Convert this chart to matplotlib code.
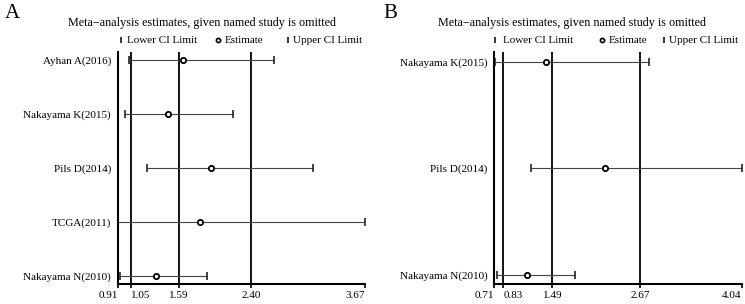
import numpy as np
import matplotlib
matplotlib.use('Agg')
import matplotlib.pyplot as plt

plt.rcParams['font.family'] = ['Liberation Serif', 'DejaVu Serif']

# panel A data
studies_a = ['Ayhan A(2016)', 'Nakayama K(2015)', 'Pils D(2014)', 'TCGA(2011)', 'Nakayama N(2010)']
est_a = [1.64, 1.47, 1.95, 1.83, 1.33]
lower_a = [1.03, 0.99, 1.23, 0.91, 0.93]
upper_a = [2.65, 2.20, 3.09, 3.67, 1.90]
ticks_a = [0.91, 1.05, 1.59, 2.40, 3.67]
ref_a = [1.05, 1.59, 2.40]

# panel B data
studies_b = ['Nakayama K(2015)', 'Pils D(2014)', 'Nakayama N(2010)']
est_b = [1.40, 2.20, 1.15]
lower_b = [0.72, 1.20, 0.74]
upper_b = [2.79, 4.04, 1.79]
ticks_b = [0.71, 0.83, 1.49, 2.67, 4.04]
ref_b = [0.83, 1.49, 2.67]

fig = plt.figure(figsize=(7.45, 3.04), dpi=100)


def panel(rect, studies, est, lower, upper, ticks, refs, leg_x, title_x, letter, letter_x):
    ax = fig.add_axes(rect)
    n = len(studies)
    y = np.arange(n, 0, -1)
    if n == 5:
        ax.set_ylim(0.85, n + 0.15)
    else:
        ax.set_ylim(0.915, n + 0.09)
    ax.set_xlim(ticks[0], ticks[-1])

    for r in refs:
        ax.axvline(r, color='black', lw=1.3)

    ax.hlines(y, lower, upper, color='#444444', lw=0.8)
    ax.plot(lower, y, ls='none', marker='|', ms=6, mew=1.2, color='#222222', clip_on=False)
    ax.plot(upper, y, ls='none', marker='|', ms=6, mew=1.2, color='#222222', clip_on=False)
    ax.plot(est, y, ls='none', marker='o', ms=3.8, mfc='white', mec='black', mew=1.3,
            clip_on=False, zorder=5)

    ax.set_yticks(y)
    ax.set_yticklabels(studies, fontsize=8)
    ax.tick_params(axis='y', length=0, pad=5)
    ax.set_xticks(ticks)
    labels = ax.set_xticklabels(['%.2f' % t for t in ticks], fontsize=8)
    labels[0].set_ha('right')
    labels[1].set_ha('left')
    labels[-1].set_ha('right')
    ax.tick_params(axis='x', direction='out', length=3, width=1.2, pad=2)

    for s in ['top', 'right']:
        ax.spines[s].set_visible(False)
    ax.spines['left'].set_linewidth(1.5)
    ax.spines['bottom'].set_linewidth(1.5)

    # legend row
    ly = 1.05
    ax.plot([leg_x[0]], [ly], transform=ax.transAxes, marker='|', ms=4.5, mew=1.1,
            color='black', clip_on=False)
    ax.text(leg_x[1], ly, 'Lower CI Limit', transform=ax.transAxes, fontsize=8, va='center')
    ax.plot([leg_x[2]], [ly], transform=ax.transAxes, marker='o', ms=3, mfc='white',
            mec='black', mew=1.2, clip_on=False)
    ax.text(leg_x[3], ly, 'Estimate', transform=ax.transAxes, fontsize=8, va='center')
    ax.plot([leg_x[4]], [ly], transform=ax.transAxes, marker='|', ms=4.5, mew=1.1,
            color='black', clip_on=False)
    ax.text(leg_x[5], ly, 'Upper CI Limit', transform=ax.transAxes, fontsize=8, va='center')

    fig.text(title_x, 0.924, 'Meta\u2212analysis estimates, given named study is omitted',
             ha='center', va='center', fontsize=8.7)
    fig.text(letter_x, 0.955, letter, ha='left', va='center', fontsize=15)
    return ax


panel([0.1584, 0.0658, 0.3316, 0.763], studies_a, est_a, lower_a, upper_a, ticks_a, ref_a,
      [0.011, 0.036, 0.404, 0.433, 0.688, 0.709], 0.271, 'A', 0.006)
panel([0.6635, 0.0658, 0.332, 0.763], studies_b, est_b, lower_b, upper_b, ticks_b, ref_b,
      [0.003, 0.034, 0.437, 0.462, 0.688, 0.708], 0.768, 'B', 0.515)

fig.savefig('out.png', dpi=100)
